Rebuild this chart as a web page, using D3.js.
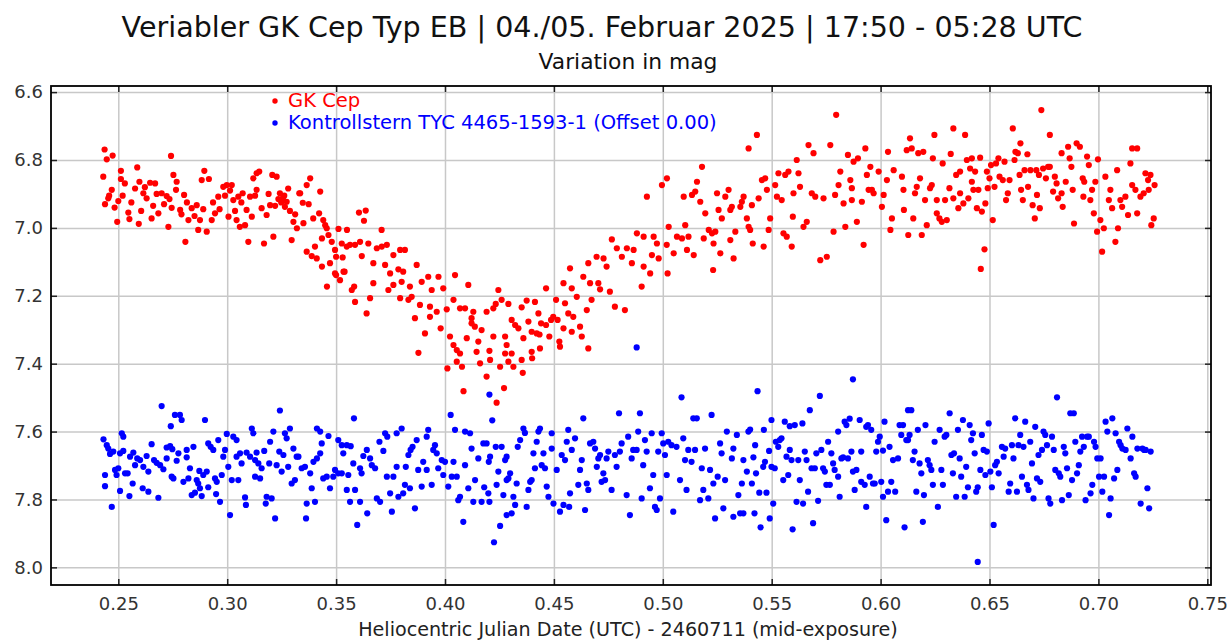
<!DOCTYPE html>
<html lang="de">
<head>
<meta charset="UTF-8">
<title>Veriabler GK Cep</title>
<script src="https://cdn.jsdelivr.net/npm/d3@7"></script>
<style>
  body { margin: 0; background: #fff; }
  text { font-family: "DejaVu Sans", "Noto Sans", sans-serif; }
  .grid line { stroke: #c8c8c8; stroke-width: 1.5px; }
  .grid path { display: none; }
  .ticks path { display: none; }
  .ticks line { stroke: #222; stroke-width: 1.5px; }
  .ticks text { fill: #333; font-size: 18px; }
  .frame { fill: none; stroke: #000; stroke-width: 1.8px; }
</style>
</head>
<body>
<script>
// tick values
const xTicks = [0.25, 0.30, 0.35, 0.40, 0.45, 0.50, 0.55, 0.60, 0.65, 0.70, 0.75];
const yTicks = [6.6, 6.8, 7.0, 7.2, 7.4, 7.6, 7.8, 8.0];

// GK Cep: [HJD - 2460711, mag]
const gkCep = [
[.2431,6.849],[.2437,6.769],[.2439,6.930],[.2447,6.798],[.2454,6.913],[.2458,6.905],[.2470,6.888],[.2474,6.787],[.2483,6.940],[.2495,6.982],
[.2500,6.921],[.2512,6.832],[.2512,6.856],[.2520,6.905],[.2530,6.869],[.2546,6.955],[.2551,6.974],[.2560,6.925],[.2577,6.884],[.2587,6.822],
[.2594,6.988],[.2597,6.864],[.2605,6.950],[.2615,6.898],[.2622,6.880],[.2630,6.913],[.2646,6.867],[.2653,6.972],[.2660,6.935],[.2669,6.869],
[.2676,6.900],[.2684,6.957],[.2699,6.898],[.2710,6.930],[.2722,6.906],[.2730,6.997],[.2735,6.915],[.2742,6.788],[.2745,6.941],[.2753,6.844],
[.2765,6.888],[.2768,6.864],[.2784,6.947],[.2790,6.960],[.2802,6.903],[.2808,7.041],[.2815,6.925],[.2822,6.977],[.2837,6.942],[.2850,6.965],
[.2860,6.933],[.2867,7.006],[.2875,6.977],[.2883,6.859],[.2890,6.945],[.2895,6.832],[.2906,7.011],[.2916,6.856],[.2929,6.977],[.2935,6.925],
[.2944,6.957],[.2959,6.908],[.2965,6.945],[.2982,6.879],[.2990,6.905],[.2998,6.874],[.3006,6.967],[.3013,6.890],[.3021,6.874],[.3028,6.918],
[.3036,6.950],[.3043,6.977],[.3051,6.908],[.3058,6.997],[.3065,6.925],[.3071,6.898],[.3082,6.992],[.3089,6.947],[.3097,7.041],[.3105,6.908],
[.3113,6.967],[.3120,6.854],[.3128,6.905],[.3135,6.839],[.3135,6.888],[.3147,6.834],[.3158,6.942],[.3169,7.046],[.3181,6.962],[.3190,6.900],
[.3197,6.933],[.3207,6.844],[.3212,7.026],[.3220,6.935],[.3227,6.849],[.3235,6.915],[.3242,6.898],[.3248,6.925],[.3255,6.913],[.3262,6.905],
[.3265,6.938],[.3273,6.923],[.3280,6.884],[.3288,6.950],[.3296,7.036],[.3304,6.982],[.3312,6.960],[.3320,7.001],[.3331,6.898],[.3335,6.898],
[.3347,6.926],[.3350,6.986],[.3365,6.874],[.3365,7.070],[.3374,6.930],[.3381,6.854],[.3388,7.083],[.3395,6.972],[.3403,7.055],[.3411,7.090],
[.3422,6.957],[.3427,6.893],[.3435,7.031],[.3435,7.114],[.3441,6.977],[.3450,6.992],[.3457,7.001],[.3458,7.173],[.3465,7.021],[.3472,7.104],
[.3480,7.041],[.3495,7.065],[.3495,7.134],[.3500,7.085],[.3500,7.139],[.3511,7.003],[.3518,7.154],[.3526,7.046],[.3530,7.087],[.3534,7.129],
[.3539,7.129],[.3549,7.055],[.3550,7.006],[.3564,7.050],[.3572,7.183],[.3583,7.173],[.3587,7.050],[.3587,7.218],[.3605,6.955],[.3610,7.041],
[.3618,7.083],[.3628,6.979],[.3636,6.949],[.3640,7.252],[.3648,7.046],[.3656,7.207],[.3671,7.163],[.3671,7.104],[.3687,7.060],[.3709,7.006],
[.3710,7.055],[.3725,7.109],[.3733,7.050],[.3740,7.183],[.3748,7.134],[.3763,7.080],[.3763,7.168],[.3786,7.122],[.3794,7.065],[.3794,7.207],
[.3801,7.159],[.3808,7.129],[.3816,7.065],[.3832,7.212],[.3839,7.173],[.3847,7.203],[.3862,7.266],[.3870,7.109],[.3878,7.368],[.3885,7.227],
[.3893,7.159],[.3908,7.311],[.3923,7.144],[.3931,7.232],[.3931,7.262],[.3939,7.183],[.3962,7.247],[.3970,7.144],[.3980,7.296],[.3992,7.178],
[.4008,7.240],[.4011,7.414],[.4023,7.320],[.4039,7.212],[.4039,7.345],[.4046,7.139],[.4054,7.360],[.4054,7.394],[.4069,7.237],[.4069,7.370],
[.4078,7.409],[.4085,7.481],[.4092,7.237],[.4100,7.325],[.4107,7.168],[.4122,7.266],[.4122,7.281],[.4130,7.247],[.4137,7.291],[.4145,7.365],
[.4153,7.335],[.4161,7.399],[.4168,7.301],[.4191,7.247],[.4191,7.438],[.4204,7.362],[.4207,7.389],[.4222,7.237],[.4222,7.320],[.4233,7.224],
[.4237,7.515],[.4245,7.183],[.4253,7.409],[.4260,7.212],[.4271,7.472],[.4276,7.320],[.4276,7.370],[.4283,7.345],[.4291,7.224],[.4291,7.394],
[.4306,7.370],[.4306,7.271],[.4314,7.409],[.4322,7.286],[.4337,7.296],[.4352,7.234],[.4352,7.389],[.4357,7.427],[.4360,7.325],[.4375,7.214],
[.4383,7.276],[.4398,7.306],[.4398,7.365],[.4400,7.384],[.4413,7.218],[.4421,7.311],[.4429,7.252],[.4434,7.314],[.4436,7.355],[.4441,7.281],
[.4464,7.286],[.4464,7.178],[.4479,7.320],[.4487,7.271],[.4497,7.262],[.4510,7.212],[.4517,7.271],[.4525,7.335],[.4528,7.350],[.4544,7.296],
[.4544,7.163],[.4551,7.222],[.4566,7.252],[.4574,7.119],[.4582,7.178],[.4582,7.306],[.4589,7.262],[.4605,7.203],[.4620,7.291],[.4628,7.320],
[.4635,7.144],[.4651,7.242],[.4658,7.104],[.4658,7.355],[.4666,7.163],[.4673,7.212],[.4696,7.085],[.4704,7.163],[.4712,7.181],[.4728,7.090],
[.4742,7.114],[.4757,7.188],[.4766,7.034],[.4780,7.232],[.4789,7.060],[.4812,7.085],[.4826,7.242],[.4835,7.060],[.4858,7.104],[.4866,7.065],
[.4881,7.016],[.4903,7.173],[.4912,7.026],[.4912,7.114],[.4927,6.908],[.4942,7.134],[.4950,7.080],[.4958,7.026],[.4973,7.046],[.4981,7.090],
[.4996,6.874],[.5018,7.050],[.5019,6.854],[.5022,7.134],[.5027,6.997],[.5050,7.075],[.5065,7.026],[.5088,7.031],[.5096,6.908],[.5103,6.992],
[.5111,7.065],[.5118,7.026],[.5134,6.903],[.5142,7.080],[.5149,6.893],[.5157,6.864],[.5172,6.923],[.5180,6.820],[.5188,7.031],[.5195,6.957],
[.5211,7.006],[.5226,7.016],[.5231,7.124],[.5233,7.046],[.5241,7.011],[.5249,6.898],[.5256,6.947],[.5264,7.075],[.5271,6.972],[.5287,6.908],
[.5302,6.888],[.5310,6.947],[.5310,7.036],[.5317,6.938],[.5325,7.090],[.5333,7.011],[.5356,6.938],[.5363,6.923],[.5371,6.908],[.5386,6.972],
[.5394,6.997],[.5394,6.766],[.5401,7.006],[.5409,6.933],[.5413,7.046],[.5432,6.726],[.5440,6.913],[.5455,6.859],[.5463,7.055],[.5470,6.854],
[.5478,6.888],[.5486,7.006],[.5493,6.972],[.5516,6.874],[.5524,6.908],[.5531,6.839],[.5546,6.918],[.5554,7.016],[.5562,6.844],[.5569,7.026],
[.5577,6.834],[.5592,7.055],[.5597,6.967],[.5600,6.898],[.5615,6.800],[.5623,6.839],[.5630,6.879],[.5646,6.997],[.5661,6.982],[.5669,6.756],
[.5684,6.898],[.5692,6.780],[.5700,6.908],[.5723,7.095],[.5738,6.913],[.5753,7.085],[.5769,6.756],[.5784,7.011],[.5791,6.903],[.5796,6.667],
[.5807,6.874],[.5815,6.834],[.5830,6.928],[.5838,6.997],[.5850,6.785],[.5861,6.859],[.5868,6.883],[.5868,6.918],[.5876,6.805],[.5891,6.982],
[.5896,6.795],[.5914,6.923],[.5922,7.050],[.5930,6.766],[.5937,6.844],[.5945,6.888],[.5953,6.820],[.5960,6.888],[.5968,6.898],[.5991,6.834],
[.6006,6.938],[.6014,6.903],[.6029,6.859],[.6034,6.776],[.6045,7.006],[.6052,6.972],[.6060,6.830],[.6098,6.849],[.6105,6.888],[.6107,6.947],
[.6120,6.771],[.6127,7.021],[.6135,6.736],[.6143,6.766],[.6150,6.972],[.6158,6.898],[.6166,6.879],[.6173,6.780],[.6181,6.854],[.6189,7.021],
[.6196,6.776],[.6204,6.918],[.6212,6.992],[.6227,6.883],[.6235,6.874],[.6240,6.795],[.6247,6.726],[.6258,6.918],[.6258,6.957],[.6270,6.972],
[.6281,6.982],[.6285,6.810],[.6296,6.918],[.6304,6.977],[.6316,6.883],[.6322,6.782],[.6334,6.707],[.6334,6.913],[.6347,6.844],[.6357,6.942],
[.6365,6.834],[.6365,6.898],[.6380,6.928],[.6388,6.726],[.6396,6.800],[.6403,6.913],[.6411,6.825],[.6419,6.864],[.6419,6.795],[.6426,6.888],
[.6434,6.834],[.6442,6.942],[.6449,6.888],[.6457,6.793],[.6460,7.121],[.6465,6.952],[.6477,7.063],[.6481,6.928],[.6488,6.834],[.6492,6.883],
[.6500,6.854],[.6507,6.815],[.6515,6.977],[.6523,6.879],[.6530,6.810],[.6541,6.795],[.6546,6.849],[.6561,6.859],[.6569,6.805],[.6576,6.918],
[.6584,6.898],[.6592,6.859],[.6607,6.707],[.6615,6.800],[.6619,6.776],[.6630,6.780],[.6638,6.844],[.6642,6.751],[.6645,6.888],[.6653,6.918],
[.6661,6.830],[.6674,6.783],[.6677,6.879],[.6688,6.830],[.6698,6.933],[.6708,6.972],[.6715,6.830],[.6718,6.903],[.6727,6.844],[.6731,6.942],
[.6738,6.653],[.6746,6.825],[.6759,6.854],[.6769,6.820],[.6777,6.726],[.6777,6.820],[.6792,6.893],[.6800,6.849],[.6808,6.869],[.6815,6.913],
[.6831,6.780],[.6831,6.898],[.6836,6.938],[.6850,6.864],[.6861,6.761],[.6868,6.795],[.6876,6.820],[.6882,6.888],[.6888,6.987],[.6900,6.751],
[.6915,6.761],[.6928,6.854],[.6931,6.908],[.6935,6.864],[.6948,6.790],[.6956,6.815],[.6963,6.918],[.6971,6.888],[.6979,6.957],[.6986,6.864],
[.6994,7.011],[.6998,6.798],[.7009,6.977],[.7017,7.070],[.7025,7.001],[.7032,6.849],[.7048,6.918],[.7055,6.888],[.7063,6.942],[.7078,7.041],
[.7086,6.830],[.7090,7.001],[.7101,6.918],[.7109,6.938],[.7124,6.908],[.7136,6.962],[.7147,6.810],[.7155,6.766],[.7155,6.874],[.7170,6.888],
[.7178,6.766],[.7178,6.957],[.7193,6.908],[.7208,6.898],[.7216,6.839],[.7228,6.859],[.7231,6.888],[.7239,6.844],[.7243,6.992],[.7254,6.972],
[.7258,6.874]
];

// Kontrollstern TYC 4465-1593-1: [HJD - 2460711, mag]
const kontroll = [
[.2432,7.623],[.2439,7.728],[.2439,7.761],[.2447,7.640],[.2454,7.650],[.2462,7.666],[.2470,7.822],[.2477,7.659],[.2485,7.713],[.2492,7.728],
[.2500,7.708],[.2508,7.664],[.2508,7.775],[.2516,7.605],[.2523,7.657],[.2523,7.615],[.2531,7.723],[.2543,7.723],[.2551,7.790],[.2554,7.674],
[.2566,7.753],[.2569,7.662],[.2577,7.699],[.2587,7.679],[.2600,7.684],[.2612,7.767],[.2615,7.704],[.2630,7.672],[.2638,7.777],[.2638,7.718],
[.2653,7.637],[.2664,7.684],[.2676,7.692],[.2684,7.795],[.2692,7.699],[.2699,7.525],[.2707,7.711],[.2722,7.679],[.2722,7.647],[.2738,7.643],
[.2741,7.584],[.2745,7.733],[.2748,7.652],[.2753,7.738],[.2760,7.551],[.2768,7.686],[.2776,7.664],[.2783,7.551],[.2791,7.566],[.2799,7.748],
[.2814,7.654],[.2814,7.676],[.2822,7.738],[.2829,7.708],[.2837,7.787],[.2845,7.645],[.2852,7.780],[.2860,7.743],[.2867,7.753],[.2872,7.716],
[.2875,7.767],[.2883,7.790],[.2890,7.728],[.2898,7.566],[.2906,7.718],[.2913,7.764],[.2913,7.635],[.2924,7.645],[.2936,7.654],[.2944,7.738],
[.2949,7.784],[.2952,7.748],[.2959,7.625],[.2967,7.807],[.2975,7.728],[.2982,7.674],[.2990,7.654],[.2998,7.607],[.3005,7.704],[.3013,7.846],
[.3021,7.743],[.3028,7.615],[.3043,7.625],[.3043,7.674],[.3051,7.743],[.3059,7.664],[.3066,7.694],[.3082,7.794],[.3086,7.816],[.3089,7.662],
[.3105,7.674],[.3113,7.591],[.3120,7.605],[.3128,7.684],[.3128,7.733],[.3135,7.662],[.3143,7.694],[.3151,7.738],[.3158,7.708],[.3170,7.657],
[.3177,7.812],[.3181,7.792],[.3193,7.694],[.3197,7.630],[.3204,7.797],[.3212,7.600],[.3220,7.856],[.3227,7.699],[.3239,7.659],[.3242,7.538],
[.3250,7.718],[.3258,7.669],[.3265,7.605],[.3273,7.620],[.3280,7.704],[.3288,7.591],[.3296,7.753],[.3304,7.650],[.3311,7.743],[.3319,7.674],
[.3327,7.674],[.3342,7.708],[.3357,7.704],[.3362,7.856],[.3365,7.812],[.3381,7.723],[.3388,7.767],[.3396,7.689],[.3403,7.807],[.3412,7.679],
[.3412,7.591],[.3427,7.664],[.3427,7.600],[.3434,7.635],[.3441,7.738],[.3457,7.733],[.3465,7.613],[.3472,7.767],[.3487,7.733],[.3495,7.713],
[.3510,7.723],[.3510,7.625],[.3526,7.723],[.3526,7.640],[.3533,7.664],[.3549,7.640],[.3549,7.772],[.3556,7.728],[.3564,7.807],[.3567,7.643],
[.3579,7.694],[.3582,7.561],[.3587,7.772],[.3597,7.875],[.3610,7.708],[.3610,7.807],[.3617,7.723],[.3625,7.672],[.3641,7.654],[.3643,7.841],
[.3656,7.679],[.3664,7.699],[.3679,7.708],[.3687,7.797],[.3699,7.630],[.3702,7.807],[.3717,7.657],[.3725,7.605],[.3733,7.733],[.3735,7.615],
[.3748,7.782],[.3756,7.836],[.3763,7.733],[.3778,7.704],[.3778,7.605],[.3786,7.792],[.3801,7.591],[.3808,7.782],[.3816,7.757],[.3820,7.704],
[.3832,7.669],[.3839,7.767],[.3842,7.654],[.3851,7.645],[.3862,7.826],[.3870,7.625],[.3877,7.713],[.3893,7.762],[.3900,7.689],[.3916,7.615],
[.3916,7.713],[.3923,7.595],[.3939,7.757],[.3946,7.654],[.3954,7.640],[.3962,7.664],[.3969,7.708],[.3985,7.684],[.3992,7.728],[.4000,7.689],
[.4015,7.762],[.4026,7.551],[.4031,7.733],[.4039,7.689],[.4046,7.595],[.4054,7.733],[.4061,7.802],[.4069,7.792],[.4084,7.866],[.4092,7.699],
[.4092,7.600],[.4107,7.767],[.4115,7.605],[.4122,7.650],[.4130,7.807],[.4138,7.743],[.4153,7.679],[.4168,7.807],[.4176,7.635],[.4180,7.764],
[.4191,7.635],[.4199,7.782],[.4201,7.689],[.4204,7.807],[.4204,7.491],[.4207,7.674],[.4217,7.567],[.4225,7.926],[.4233,7.645],[.4237,7.757],
[.4245,7.718],[.4253,7.878],[.4260,7.645],[.4268,7.787],[.4276,7.684],[.4283,7.846],[.4283,7.674],[.4283,7.743],[.4291,7.738],[.4299,7.723],
[.4306,7.841],[.4314,7.792],[.4322,7.816],[.4329,7.753],[.4334,7.645],[.4345,7.625],[.4360,7.591],[.4367,7.604],[.4375,7.822],[.4383,7.772],
[.4391,7.748],[.4398,7.743],[.4406,7.664],[.4413,7.708],[.4421,7.630],[.4429,7.600],[.4436,7.591],[.4444,7.699],[.4452,7.664],[.4459,7.708],
[.4467,7.762],[.4475,7.792],[.4490,7.605],[.4490,7.650],[.4498,7.812],[.4513,7.713],[.4528,7.836],[.4536,7.669],[.4544,7.816],[.4551,7.684],
[.4559,7.630],[.4566,7.595],[.4570,7.822],[.4574,7.782],[.4582,7.654],[.4597,7.620],[.4612,7.757],[.4620,7.713],[.4628,7.684],[.4635,7.561],
[.4643,7.831],[.4651,7.753],[.4658,7.772],[.4666,7.635],[.4681,7.630],[.4689,7.650],[.4697,7.704],[.4704,7.679],[.4712,7.669],[.4719,7.748],
[.4727,7.723],[.4735,7.743],[.4742,7.679],[.4750,7.659],[.4765,7.772],[.4780,7.669],[.4788,7.704],[.4799,7.546],[.4803,7.659],[.4811,7.635],
[.4834,7.787],[.4841,7.615],[.4849,7.846],[.4857,7.679],[.4864,7.654],[.4880,7.654],[.4880,7.352],[.4887,7.600],[.4895,7.546],[.4903,7.797],
[.4910,7.699],[.4918,7.625],[.4926,7.659],[.4941,7.767],[.4949,7.605],[.4956,7.728],[.4964,7.822],[.4972,7.831],[.4979,7.659],[.4987,7.797],
[.4995,7.605],[.5002,7.635],[.5010,7.669],[.5018,7.728],[.5025,7.630],[.5040,7.640],[.5048,7.836],[.5063,7.645],[.5079,7.743],[.5086,7.499],
[.5094,7.620],[.5102,7.684],[.5109,7.772],[.5117,7.654],[.5132,7.689],[.5140,7.561],[.5148,7.654],[.5156,7.561],[.5171,7.802],[.5179,7.708],
[.5186,7.772],[.5194,7.650],[.5209,7.797],[.5217,7.713],[.5224,7.551],[.5232,7.753],[.5240,7.856],[.5252,7.733],[.5263,7.635],[.5270,7.664],
[.5278,7.826],[.5286,7.743],[.5294,7.600],[.5317,7.679],[.5324,7.650],[.5324,7.851],[.5340,7.610],[.5347,7.787],[.5355,7.841],[.5363,7.753],
[.5370,7.841],[.5370,7.684],[.5386,7.718],[.5393,7.600],[.5401,7.594],[.5409,7.753],[.5416,7.676],[.5421,7.841],[.5424,7.640],[.5428,7.723],
[.5435,7.481],[.5443,7.780],[.5449,7.882],[.5461,7.704],[.5464,7.595],[.5469,7.689],[.5476,7.780],[.5488,7.657],[.5491,7.856],[.5499,7.566],
[.5499,7.704],[.5507,7.812],[.5514,7.708],[.5519,7.630],[.5530,7.645],[.5537,7.625],[.5545,7.620],[.5553,7.743],[.5560,7.571],[.5568,7.674],
[.5576,7.728],[.5583,7.584],[.5583,7.654],[.5591,7.684],[.5596,7.888],[.5606,7.581],[.5614,7.807],[.5622,7.684],[.5629,7.743],[.5641,7.576],
[.5644,7.812],[.5652,7.659],[.5660,7.684],[.5667,7.777],[.5675,7.537],[.5683,7.708],[.5690,7.870],[.5698,7.708],[.5705,7.664],[.5713,7.804],
[.5721,7.495],[.5728,7.654],[.5736,7.708],[.5744,7.718],[.5751,7.757],[.5759,7.630],[.5767,7.757],[.5774,7.664],[.5782,7.694],[.5789,7.713],
[.5805,7.733],[.5805,7.600],[.5812,7.792],[.5820,7.679],[.5828,7.676],[.5835,7.571],[.5843,7.581],[.5850,7.679],[.5858,7.562],[.5866,7.659],
[.5873,7.446],[.5873,7.718],[.5881,7.772],[.5889,7.713],[.5904,7.566],[.5911,7.659],[.5911,7.748],[.5927,7.757],[.5934,7.822],[.5934,7.586],
[.5942,7.581],[.5950,7.733],[.5957,7.595],[.5965,7.753],[.5973,7.753],[.5980,7.659],[.5988,7.630],[.5996,7.615],[.6003,7.748],[.6011,7.792],
[.6011,7.656],[.6018,7.571],[.6026,7.861],[.6034,7.777],[.6041,7.645],[.6049,7.748],[.6057,7.684],[.6067,7.777],[.6080,7.679],[.6087,7.581],
[.6095,7.610],[.6103,7.581],[.6110,7.882],[.6118,7.625],[.6126,7.625],[.6126,7.537],[.6133,7.610],[.6141,7.537],[.6148,7.684],[.6156,7.659],
[.6164,7.777],[.6171,7.595],[.6179,7.694],[.6187,7.723],[.6194,7.866],[.6199,7.787],[.6206,7.581],[.6217,7.684],[.6225,7.699],[.6233,7.713],
[.6240,7.757],[.6248,7.630],[.6263,7.822],[.6271,7.595],[.6279,7.713],[.6286,7.757],[.6294,7.615],[.6302,7.610],[.6317,7.546],[.6325,7.669],
[.6332,7.723],[.6337,7.664],[.6347,7.792],[.6355,7.595],[.6363,7.679],[.6370,7.733],[.6378,7.566],[.6386,7.792],[.6393,7.704],[.6401,7.764],
[.6409,7.581],[.6416,7.625],[.6424,7.605],[.6432,7.664],[.6439,7.777],[.6446,7.764],[.6446,7.984],[.6458,7.713],[.6465,7.610],[.6473,7.654],
[.6481,7.728],[.6488,7.659],[.6496,7.576],[.6504,7.718],[.6511,7.764],[.6519,7.875],[.6526,7.699],[.6534,7.689],[.6542,7.723],[.6557,7.645],
[.6565,7.674],[.6572,7.650],[.6588,7.777],[.6595,7.753],[.6603,7.640],[.6610,7.679],[.6618,7.561],[.6626,7.777],[.6633,7.640],[.6641,7.610],
[.6649,7.733],[.6656,7.645],[.6664,7.571],[.6672,7.757],[.6679,7.772],[.6687,7.630],[.6695,7.694],[.6702,7.797],[.6710,7.586],[.6718,7.738],
[.6725,7.669],[.6733,7.748],[.6741,7.654],[.6748,7.600],[.6756,7.610],[.6764,7.640],[.6771,7.797],[.6779,7.812],[.6787,7.615],[.6795,7.654],
[.6802,7.713],[.6810,7.499],[.6818,7.723],[.6825,7.733],[.6833,7.802],[.6841,7.645],[.6848,7.664],[.6856,7.708],[.6864,7.787],[.6871,7.546],
[.6879,7.743],[.6887,7.546],[.6894,7.630],[.6902,7.723],[.6910,7.699],[.6917,7.659],[.6925,7.615],[.6933,7.645],[.6941,7.802],[.6948,7.615],
[.6956,7.615],[.6964,7.782],[.6972,7.757],[.6980,7.630],[.6987,7.645],[.6995,7.679],[.7003,7.733],[.7010,7.679],[.7018,7.777],[.7026,7.733],
[.7033,7.571],[.7041,7.600],[.7049,7.846],[.7056,7.797],[.7064,7.561],[.7072,7.738],[.7079,7.605],[.7087,7.713],[.7095,7.630],[.7102,7.640],
[.7110,7.650],[.7125,7.654],[.7133,7.591],[.7148,7.679],[.7156,7.615],[.7164,7.723],[.7171,7.733],[.7179,7.650],[.7194,7.812],[.7202,7.650],
[.7210,7.654],[.7217,7.654],[.7225,7.767],[.7233,7.826],[.7240,7.659]
];

const width = 1229, height = 640;
const plot = {left: 51, right: 1211, top: 86, bottom: 585};
const dotR = 3.1;

const svg = d3.select('body').append('svg')
    .attr('width', width)
    .attr('height', height);

const x = d3.scaleLinear().domain([0.2191, 0.7517]).range([plot.left, plot.right]);
const y = d3.scaleLinear().domain([6.582, 8.052]).range([plot.top, plot.bottom]);

// fit a text to a measured width by scaling its font size
function fitWidth(sel, w) {
  const len = sel.node().getComputedTextLength();
  const fs = parseFloat(sel.attr('font-size'));
  sel.attr('font-size', (fs * w / len).toFixed(2));
}

// gridlines
svg.append('g').attr('class', 'grid')
    .attr('transform', 'translate(0,' + plot.bottom + ')')
    .call(d3.axisBottom(x).tickValues(xTicks).tickSize(-(plot.bottom - plot.top)).tickFormat(''));
svg.append('g').attr('class', 'grid')
    .attr('transform', 'translate(' + plot.left + ',0)')
    .call(d3.axisLeft(y).tickValues(yTicks).tickSize(-(plot.right - plot.left)).tickFormat(''));

// axes with inward ticks
svg.append('g').attr('class', 'ticks')
    .attr('transform', 'translate(0,' + plot.bottom + ')')
    .call(d3.axisBottom(x).tickValues(xTicks).tickSizeInner(-6).tickSizeOuter(0)
      .tickPadding(12).tickFormat(d3.format('.2f')));
svg.append('g').attr('class', 'ticks')
    .attr('transform', 'translate(0,' + plot.top + ')')
    .call(d3.axisTop(x).tickValues(xTicks).tickSizeInner(-6).tickSizeOuter(0).tickFormat(''));
svg.append('g').attr('class', 'ticks')
    .attr('transform', 'translate(' + plot.left + ',0)')
    .call(d3.axisLeft(y).tickValues(yTicks).tickSizeInner(-6).tickSizeOuter(0)
      .tickPadding(8).tickFormat(d3.format('.1f')));
svg.append('g').attr('class', 'ticks')
    .attr('transform', 'translate(' + plot.right + ',0)')
    .call(d3.axisRight(y).tickValues(yTicks).tickSizeInner(-6).tickSizeOuter(0).tickFormat(''));

svg.selectAll('.ticks text').attr('font-size', null);

// points
svg.append('g').selectAll('circle').data(gkCep).join('circle')
    .attr('cx', d => x(d[0])).attr('cy', d => y(d[1])).attr('r', dotR)
    .attr('fill', '#ff0000');
svg.append('g').selectAll('circle').data(kontroll).join('circle')
    .attr('cx', d => x(d[0])).attr('cy', d => y(d[1])).attr('r', dotR)
    .attr('fill', '#0000ff');

// frame
svg.append('rect').attr('class', 'frame')
    .attr('x', plot.left).attr('y', plot.top)
    .attr('width', plot.right - plot.left).attr('height', plot.bottom - plot.top);

// legend
const legend = [
  {label: 'GK Cep', color: '#ff0000'},
  {label: 'Kontrollstern TYC 4465-1593-1 (Offset 0.00)', color: '#0000ff'}
];
const lg = svg.append('g').attr('transform', 'translate(275,101)');
lg.selectAll('circle').data(legend).join('circle')
    .attr('cx', 0).attr('cy', (d, i) => i * 22).attr('r', 2.7).attr('fill', d => d.color);
const lt = lg.selectAll('text').data(legend).join('text')
    .attr('x', 13).attr('y', (d, i) => i * 22 + 6)
    .attr('font-size', 16).attr('fill', d => d.color)
    .text(d => d.label);
fitWidth(d3.select(lt.nodes()[1]), 429);
d3.select(lt.nodes()[0]).attr('font-size', d3.select(lt.nodes()[1]).attr('font-size'));

// titles
const title = svg.append('text')
    .attr('x', 602).attr('y', 37).attr('text-anchor', 'middle')
    .attr('font-size', 28).attr('fill', '#111')
    .text('Veriabler GK Cep Typ EB | 04./05. Februar 2025 | 17:50 - 05:28 UTC');
fitWidth(title, 961);

const sub = svg.append('text')
    .attr('x', 628).attr('y', 69).attr('text-anchor', 'middle')
    .attr('font-size', 18).attr('fill', '#111')
    .text('Variation in mag');
fitWidth(sub, 179);

const xl = svg.append('text')
    .attr('x', 628).attr('y', 636).attr('text-anchor', 'middle')
    .attr('font-size', 17).attr('fill', '#222')
    .text('Heliocentric Julian Date (UTC) - 2460711 (mid-exposure)');
fitWidth(xl, 540);
</script>
</body>
</html>
